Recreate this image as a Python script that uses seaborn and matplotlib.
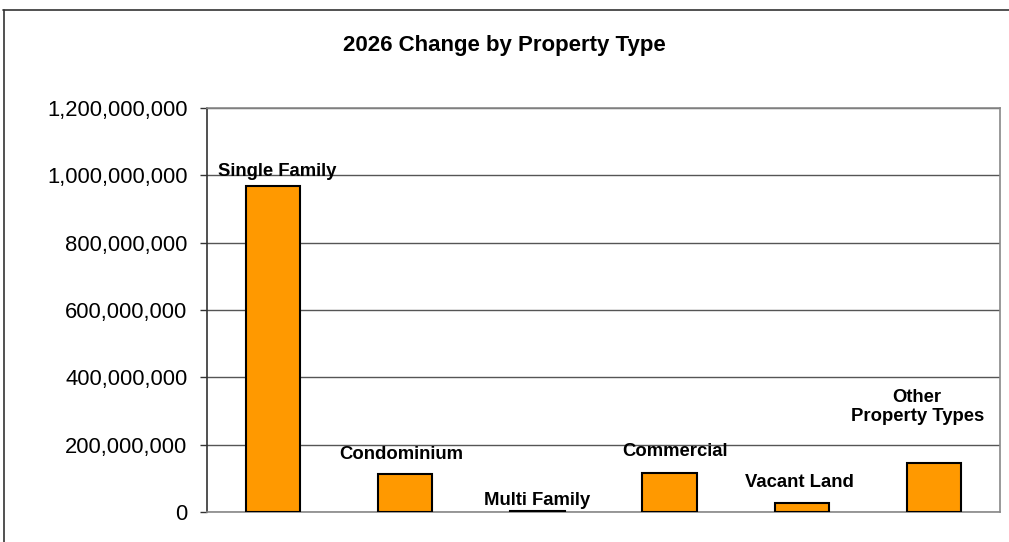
import pandas as pd
import seaborn as sns
import matplotlib.pyplot as plt
from matplotlib.lines import Line2D
from matplotlib.ticker import FuncFormatter

categories = ['Single Family', 'Condominium', 'Multi Family', 'Commercial', 'Vacant Land', 'Other Property Types']
values = [968000000, 113000000, 4000000, 116000000, 27000000, 146000000]
label_texts = ['Single Family', 'Condominium', 'Multi Family', 'Commercial', 'Vacant Land', 'Other\nProperty Types']

sns.set_style('white')
plt.rcParams['font.family'] = ['Liberation Sans', 'DejaVu Sans']
plt.rcParams['text.color'] = 'black'
plt.rcParams['ytick.color'] = 'black'
plt.rcParams['ytick.labelcolor'] = 'black'

df = pd.DataFrame({'type': categories, 'change': values})

fig = plt.figure(figsize=(10.09, 5.42), dpi=100)
ax = fig.add_axes([207 / 1009, 1 - 512 / 542, 793 / 1009, 404 / 542])

sns.barplot(data=df, x='type', y='change', color='#FF9900', saturation=1,
            edgecolor='black', linewidth=1.5, width=0.41, ax=ax, zorder=3)

ax.set_ylim(0, 1200000000)
ax.set_yticks(range(0, 1200000001, 200000000))
ax.yaxis.set_major_formatter(FuncFormatter(lambda v, p: f'{int(v):,}'))
ax.tick_params(axis='y', labelsize=15.8, length=5, width=1, color='#333333', direction='out', left=True, pad=9)
ax.set_xticks([])
ax.set_xlabel('')
ax.set_ylabel('')
ax.grid(axis='y', color='#555555', linewidth=1, zorder=0)

ax.spines['left'].set_color('#333333')
ax.spines['left'].set_linewidth(1.2)
for s in ['right', 'bottom', 'top']:
    ax.spines[s].set_color('#888888')
    ax.spines[s].set_linewidth(1.2)

# data labels above the bars
offsets = [(3, 4.5), (-3, 8), (0, 1.5), (4, 9), (-2, 8.5), (-12, 27.5)]
for i, (txt, v) in enumerate(zip(label_texts, values)):
    ax.annotate(txt, xy=(i, v), xytext=offsets[i], textcoords='offset points',
                ha='center', va='bottom', fontsize=13.3, fontweight='bold',
                linespacing=1.15, zorder=5)

fig.text(0.5, 1 - 45 / 542, '2026 Change by Property Type', ha='center', va='center',
         fontsize=16, fontweight='bold')

# chart area border (top and left visible)
fig.add_artist(Line2D([3 / 1009, 1], [1 - 10 / 542, 1 - 10 / 542], color='#333333', linewidth=1.2))
fig.add_artist(Line2D([4 / 1009, 4 / 1009], [0, 1 - 10 / 542], color='#333333', linewidth=1.2))

fig.savefig('out.png', dpi=100)
